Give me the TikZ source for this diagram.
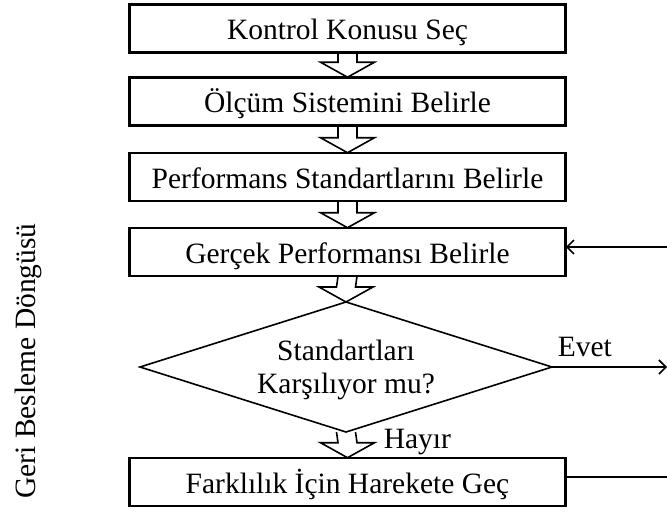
\documentclass[tikz,border=0pt]{standalone}
\usepackage{fontspec}
\setmainfont{Liberation Serif}
\usetikzlibrary{arrows.meta,calc}
\begin{document}
\begin{tikzpicture}[x=1pt,y=-1pt,
  line width=1.6pt,
  font=\fontsize{29.5}{33}\selectfont,
  stepbox/.style={draw,fill=white,rectangle,minimum width=435pt,minimum height=47pt,
    inner sep=0pt,text height=22pt,text depth=0pt},
  flowarrow/.style={draw,fill=white,line join=miter},
  loopline/.style={line width=1.6pt},
  looptip/.style={-{Straight Barb[length=7pt,width=14pt,line width=1.6pt]}}
]
\useasboundingbox (0,0) rectangle (667,512);

% hollow block arrow from one anchor down to another
\newcommand{\blockarrow}[2]{%
  \draw[flowarrow] ($(#1)+(-9.5,0)$) -- ($(#2)+(-9.5,-15)$)
    -- ($(#2)+(-27,-15)$) -- (#2) -- ($(#2)+(27,-15)$)
    -- ($(#2)+(9.5,-15)$) -- ($(#1)+(9.5,0)$);}

% steps
\node[stepbox] (s1) at (347.5,28.5) {Kontrol Konusu Seç};
\node[stepbox] (s2) at (347.5,101.5) {Ölçüm Sistemini Belirle};
\node[stepbox] (s3) at (347.5,177) {Performans Standartlarını Belirle};
\node[stepbox] (s4) at (347.5,252) {Gerçek Performansı Belirle};
\node[stepbox] (s5) at (347.5,482) {Farklılık İçin Harekete Geç};

% decision diamond
\coordinate (qn) at (346,302);
\coordinate (qe) at (552,367);
\coordinate (qs) at (346,432);
\coordinate (qw) at (140,367);
\node[align=center,inner sep=0pt] (q) at (346,370) {Standartları\\Karşılıyor mu?};

% connections between steps
\blockarrow{s1.south}{s2.north}
\blockarrow{s2.south}{s3.north}
\blockarrow{s3.south}{s4.north}
\blockarrow{s4.south}{qn}
\blockarrow{qs}{s5.north}

% outlines drawn over the arrow ends
\foreach \n in {s1,s2,s3,s4,s5} \draw (\n.north west) rectangle (\n.south east);
\draw[line join=miter] (qn) -- (qe) -- (qs) -- (qw) -- cycle;

% branch labels
\node[anchor=base west,inner sep=0pt] (no) at (383,448) {Hayır};
\node[anchor=base west,inner sep=0pt] (yes) at (557,356) {Evet};

% feedback loop
\coordinate (fbin) at (667,247);
\coordinate (yesend) at (667,367);
\coordinate (fbout) at (667,477);
\draw[loopline,looptip] (fbin) -- (s4.east |- fbin);
\draw[loopline,looptip] (qe) -- (yesend);
\draw[loopline] (s5.east |- fbout) -- (fbout);

\node[rotate=90] (loop) at (28,361) {Geri Besleme Döngüsü};
\end{tikzpicture}
\end{document}
